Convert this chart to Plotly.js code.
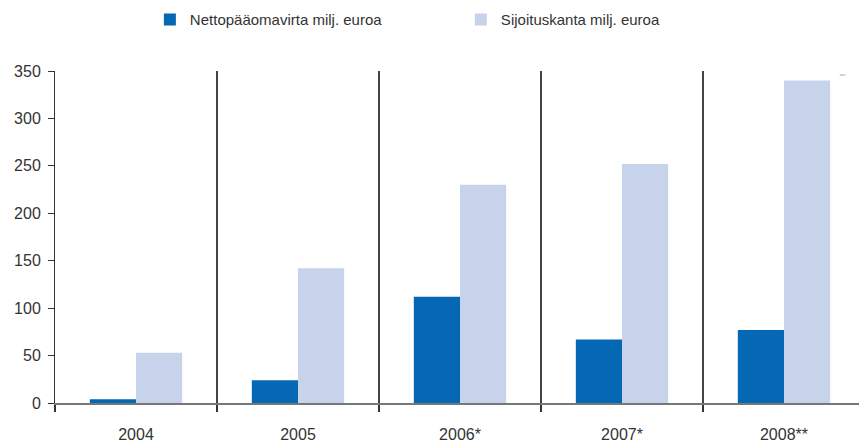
<!DOCTYPE html>
<html>
<head>
<meta charset="utf-8">
<script src="https://cdn.plot.ly/plotly-3.0.1.min.js"></script>
<style>html,body{margin:0;padding:0;background:#fff;}#chart{width:859px;height:443px;}</style>
</head>
<body>
<div id="chart"></div>
<script>
const years = ['2004', '2005', '2006*', '2007*', '2008**'];
const xPos = [0, 1, 2, 3, 4];
const nettoName = 'Nettopääomavirta milj. euroa';
const kantaName = 'Sijoituskanta milj. euroa';
const netto = [4, 24, 112, 67, 77];
const kanta = [53, 142, 230, 252, 340];
const yTicks = [0, 50, 100, 150, 200, 250, 300, 350];

const fontFam = '"Liberation Sans", Arial, sans-serif';

const traces = [
  { type: 'bar', name: nettoName, x: xPos, y: netto, marker: { color: '#0468b4' }, hoverinfo: 'skip' },
  { type: 'bar', name: kantaName, x: xPos, y: kanta, marker: { color: '#c7d3ea' }, hoverinfo: 'skip' }
];

const layout = {
  width: 859, height: 443,
  margin: { l: 55, r: 0, t: 71, b: 40, autoexpand: false },
  paper_bgcolor: '#fff', plot_bgcolor: '#fff',
  barmode: 'group', bargap: 0.43, bargroupgap: 0,
  font: { family: fontFam, color: '#333', size: 16 },
  showlegend: true,
  legend: {
    orientation: 'h', x: 0.118, xanchor: 'left', y: 1.154, yanchor: 'middle',
    font: { size: 15, color: '#333', family: fontFam },
    entrywidth: 266, entrywidthmode: 'pixels', itemwidth: 30,
    traceorder: 'normal'
  },
  xaxis: {
    range: [-0.5, 4.463], fixedrange: true, automargin: false,
    tickmode: 'array', tickvals: xPos, ticktext: years,
    ticks: '', showgrid: false, zeroline: false,
    showline: true, linecolor: '#777', linewidth: 2,
    tickfont: { size: 16, color: '#333' }, ticklabelstandoff: 16,
    minor: { tick0: 0.5, dtick: 1, ticks: 'outside', ticklen: 7, tickcolor: '#333', tickwidth: 1.3,
             showgrid: true, gridcolor: '#444', gridwidth: 1.3 }
  },
  yaxis: {
    range: [0, 350], fixedrange: true, automargin: false,
    tickmode: 'array', tickvals: yTicks,
    ticks: 'outside', ticklen: 6, tickcolor: '#333', tickwidth: 1,
    showgrid: false, zeroline: false,
    showline: true, linecolor: '#333', linewidth: 1,
    tickfont: { size: 16, color: '#333' }, ticklabelstandoff: 4
  },
  shapes: [
    { type: 'rect', xref: 'paper', yref: 'paper', x0: 0.976, x1: 0.983, y0: 0.985, y1: 0.991,
      fillcolor: '#c7d3ea', line: { width: 0 } }
  ]
};

Plotly.newPlot('chart', traces, layout, { displayModeBar: false, staticPlot: true });
</script>
</body>
</html>
